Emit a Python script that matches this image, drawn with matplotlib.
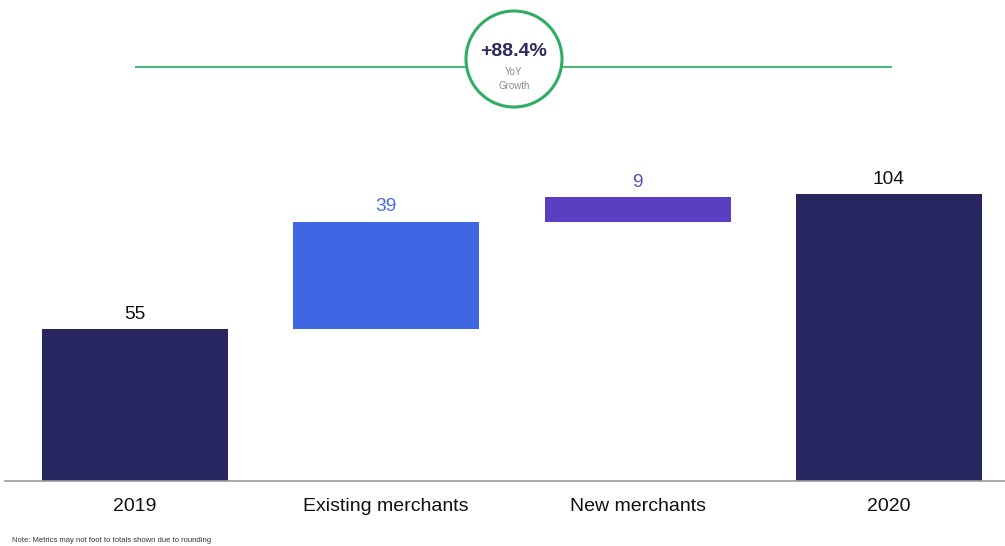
import matplotlib
matplotlib.use("Agg")
import matplotlib.pyplot as plt
from matplotlib.patches import Circle

categories = ["2019", "Existing merchants", "New merchants", "2020"]
values = [55, 39, 9, 104]
kinds = ["total", "delta", "delta", "total"]
bar_colors = ["#282661", "#3f67e4", "#5a3fc2", "#282661"]
label_colors = ["#111111", "#4a6be0", "#5b4fb5", "#111111"]
growth_text = "+88.4%"
growth_caption = ["YoY", "Growth"]
note = "Note: Metrics may not foot to totals shown due to rounding"

W, H = 1005, 546
fig = plt.figure(figsize=(W / 100, H / 100), dpi=100)
fig.patch.set_facecolor("white")

# main waterfall axes: baseline at 481 px from top
ax = fig.add_axes([5 / W, 1 - 481 / H, 1000 / W, 481 / H])
ax.set_xlim(-0.517, -0.517 + 1000 / 251.3)
ax.set_ylim(0, 481 / 2.76)

running = 0
bottoms, heights = [], []
for v, k in zip(values, kinds):
    if k == "total":
        bottoms.append(0)
        heights.append(v)
        running = v
    else:
        bottoms.append(running)
        heights.append(v)
        running += v

xs = list(range(len(categories)))
ax.bar(xs, heights, bottom=bottoms, width=0.74, color=bar_colors, zorder=2)

for x, b, h, v, c in zip(xs, bottoms, heights, values, label_colors):
    ax.text(x, b + h + 2.2, f"{v}", ha="center", va="bottom",
            fontsize=13.8, color=c, family="Liberation Sans")

for s in ["top", "right", "left"]:
    ax.spines[s].set_visible(False)
ax.spines["bottom"].set_color("#9a9a9a")
ax.spines["bottom"].set_linewidth(1.2)
ax.set_yticks([])
ax.set_xticks(xs)
ax.set_xticklabels(categories, fontsize=14, family="Liberation Sans", color="#111111")
ax.tick_params(axis="x", length=0, pad=12)
ax.patch.set_alpha(0)

# growth badge overlay in pixel units
ov = fig.add_axes([0, 0, 1, 1], zorder=5)
ov.set_xlim(0, W)
ov.set_ylim(H, 0)
ov.axis("off")
ov.patch.set_alpha(0)
ov.plot([135, 892], [67, 67], color="#45b874", lw=1.4, solid_capstyle="butt", zorder=1)
ov.add_patch(Circle((514, 59), 48, facecolor="white", edgecolor="#2fae63", lw=2.2, zorder=2))
ov.text(514, 52, growth_text, ha="center", va="center", fontsize=14, fontweight="bold",
        color="#2b2a5e", family="Liberation Sans", zorder=3)
ov.text(514, 72, growth_caption[0], ha="center", va="center", fontsize=7,
        color="#8a8a8a", family="Liberation Sans", zorder=3)
ov.text(514, 86, growth_caption[1], ha="center", va="center", fontsize=7,
        color="#8a8a8a", family="Liberation Sans", zorder=3)

fig.text(12 / W, 1 - 541 / H, note, ha="left", va="center", fontsize=5.5,
         color="#333333", family="Liberation Sans")

fig.savefig("out.png", dpi=100, facecolor="white")
